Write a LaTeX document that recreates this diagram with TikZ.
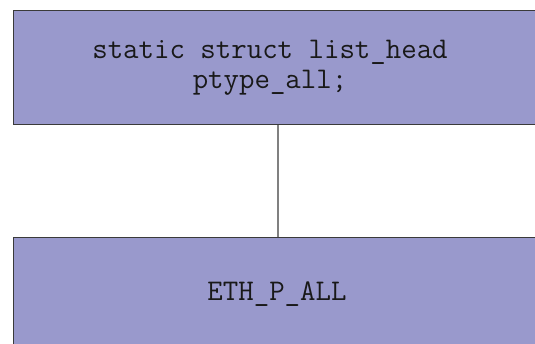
\documentclass[tikz,border=0pt]{standalone}
\definecolor{boxfill}{HTML}{9999CC}
\definecolor{boxline}{HTML}{3A3A3A}
\definecolor{linkgray}{HTML}{808080}
\begin{document}
\begin{tikzpicture}[x=1pt,y=-1pt,
  box/.style={draw=boxline, line width=1.2pt, fill=boxfill, rectangle,
    inner sep=0pt, anchor=north west, minimum width=560pt},
  code/.style={font=\ttfamily\fontsize{30}{30}\selectfont, text=black!90,
    align=center, inner sep=0pt}]
\useasboundingbox (0,0) rectangle (535,344);
\clip (0,0) rectangle (535,344);
% the two blocks, running off the right edge
\node[box, minimum height=114pt] (head) at (13,10) {};
\node[box, minimum height=130pt] (entry) at (13,237) {};
% labels
\node[code] (headtxt) at (270,68) {static struct list\_head\\ptype\_all;};
\node[code] (entrytxt) at (277,294) {ETH\_P\_ALL};
% link between the blocks
\coordinate (lx) at (278,0);
\draw[linkgray, line width=1.8pt] (head.south -| lx) -- (entry.north -| lx);
\end{tikzpicture}
\end{document}
